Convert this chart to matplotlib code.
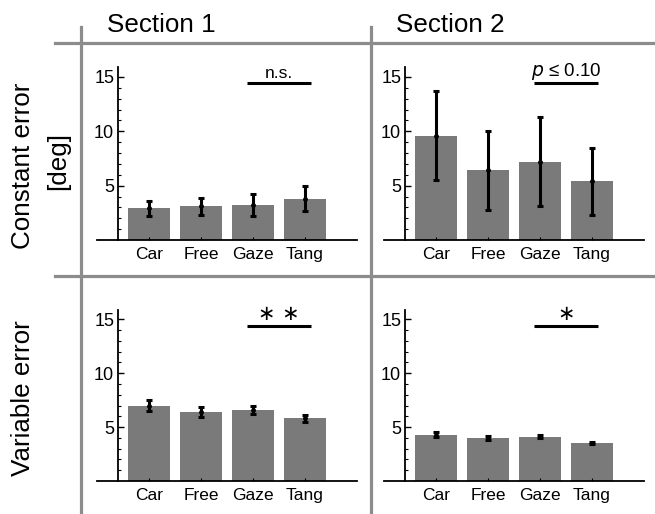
import numpy as np
import matplotlib
matplotlib.use("Agg")
import matplotlib.pyplot as plt
from matplotlib.lines import Line2D

plt.rcParams['font.family'] = ['Liberation Sans', 'DejaVu Sans']

# data
conditions = ['Car', 'Free', 'Gaze', 'Tang']
const_s1 = [2.9, 3.1, 3.2, 3.8]
const_s1_err = [0.65, 0.8, 1.0, 1.15]
const_s2 = [9.6, 6.4, 7.2, 5.4]
const_s2_err = [4.1, 3.65, 4.1, 3.1]
var_s1 = [7.0, 6.4, 6.6, 5.8]
var_s1_err = [0.55, 0.42, 0.35, 0.35]
var_s2 = [4.3, 4.0, 4.1, 3.55]
var_s2_err = [0.2, 0.2, 0.15, 0.1]
sig_labels = ['n.s.', r'$p$ ≤ 0.10', '∗ ∗', '∗']
yticks = [5, 10, 15]

fig = plt.figure(figsize=(6.55, 5.14), dpi=100)
W, H = 655, 514


def px_axes(x0, x1, y0, y1):
    # pixel box -> figure fraction
    return fig.add_axes([x0 / W, 1 - y1 / H, (x1 - x0) / W, (y1 - y0) / H])


def panel(ax, vals, errs, label, ytop):
    x = np.arange(len(vals))
    ax.bar(x, vals, width=0.79, color='#7a7a7a', zorder=1)
    ax.errorbar(x, vals, yerr=errs, fmt='o', ms=2.5, color='black',
                ecolor='black', elinewidth=2.2, capsize=2.5, capthick=2.2, zorder=3)
    ax.set_xlim(-1.0, 4.0)
    ax.set_ylim(0, ytop)
    for s in ['top', 'right']:
        ax.spines[s].set_visible(False)
    ax.spines['left'].set_position(('data', -0.59))
    ax.spines['left'].set_bounds(0, 15.9)
    ax.spines['left'].set_linewidth(1.3)
    ax.spines['bottom'].set_linewidth(1.3)
    ax.set_yticks(yticks)
    ax.set_yticks(np.arange(1, 16), minor=True)
    ax.set_xticks(x)
    ax.set_xticklabels(conditions)
    ax.tick_params(axis='y', direction='in', length=4, width=1.0, labelsize=13, pad=3)
    ax.tick_params(axis='y', which='minor', direction='in', length=2, width=0.8)
    ax.tick_params(axis='x', direction='in', length=2, width=0.8, labelsize=12.5, pad=5)
    ax.plot([1.88, 3.12], [14.4, 14.4], color='black', lw=2.2, solid_capstyle='butt')
    if label.startswith('∗'):
        ax.text(2.5, 15.45, label, ha='center', va='center', fontsize=15,
                family=['DejaVu Sans'])
    elif label.startswith('$'):
        ax.text(2.5, 14.55, label, ha='center', va='bottom', fontsize=13.5)
    else:
        ax.text(2.5, 14.6, label, ha='center', va='bottom', fontsize=12.5)


ax1 = px_axes(97, 357, 66, 240)
ax2 = px_axes(384, 644, 66, 240)
ax3 = px_axes(97, 357, 308.5, 481)
ax4 = px_axes(384, 644, 308.5, 481)

panel(ax1, const_s1, const_s1_err, sig_labels[0], 16)
panel(ax2, const_s2, const_s2_err, sig_labels[1], 16)
panel(ax3, var_s1, var_s1_err, sig_labels[2], 16.5)
panel(ax4, var_s2, var_s2_err, sig_labels[3], 16.5)
for ax in (ax3, ax4):
    ax.set_position([ax.get_position().x0, 1 - 481 / H, 260 / W, 16.5 * 10.78 / H])

# gray frame lines
gray = '#8c8c8c'
for xs, ys in [([81, 81], [27, 514]), ([371, 371], [27, 514]),
               ([55, 655], [43, 43]), ([55, 655], [276, 276])]:
    fig.add_artist(Line2D([v / W for v in xs], [1 - v / H for v in ys],
                          color=gray, lw=2.3, transform=fig.transFigure))

fig.text(161 / W, 1 - 32 / H, 'Section 1', ha='center', va='baseline', fontsize=18.7)
fig.text(450 / W, 1 - 32 / H, 'Section 2', ha='center', va='baseline', fontsize=18.7)
fig.text(23 / W, 1 - 166 / H, 'Constant error', rotation=90, ha='center', va='center', fontsize=18.7)
fig.text(58 / W, 1 - 161 / H, '[deg]', rotation=90, ha='center', va='center', fontsize=18.7)
fig.text(23 / W, 1 - 398 / H, 'Variable error', rotation=90, ha='center', va='center', fontsize=18.7)

fig.savefig('out.png', dpi=100)
